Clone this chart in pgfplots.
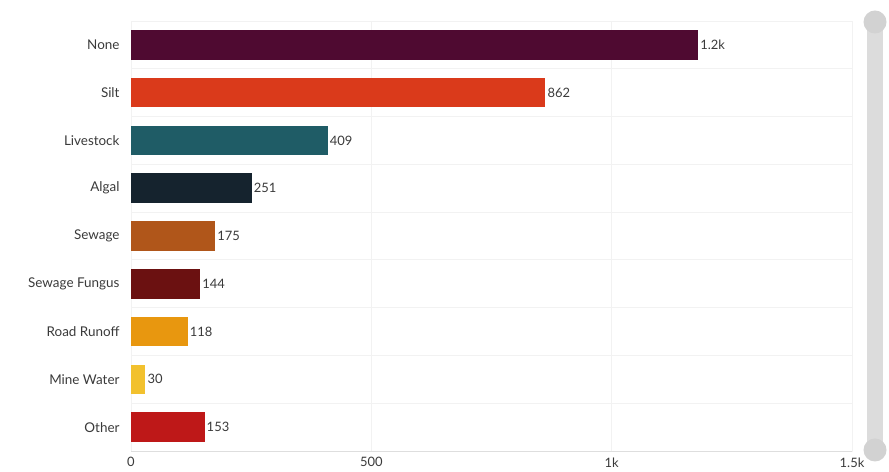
\documentclass[border=0pt]{standalone}
\usepackage{pgfplots}
\pgfplotsset{compat=1.18}
\usepackage{fontspec}
\setmainfont{Lato}
\definecolor{cNone}{HTML}{4F0A31}
\definecolor{cSilt}{HTML}{DA3A1B}
\definecolor{cLive}{HTML}{1F5C66}
\definecolor{cAlgal}{HTML}{15232E}
\definecolor{cSew}{HTML}{B0561A}
\definecolor{cFung}{HTML}{6B1111}
\definecolor{cRoad}{HTML}{E8970F}
\definecolor{cMine}{HTML}{F2C12E}
\definecolor{cOther}{HTML}{BE1818}
\definecolor{txt}{HTML}{3A3A3A}
\definecolor{gridc}{HTML}{F2F2F2}
\definecolor{scroll}{HTML}{DCDCDC}
\definecolor{knob}{HTML}{D2D2D2}
\begin{document}
\begin{tikzpicture}[x=1bp,y=1bp]
\path[use as bounding box] (0,0) rectangle (889,472);
% scrollbar
\fill[scroll] (867,22) rectangle (883,450);
\fill[knob] (875,450) circle (11.5);
\fill[knob] (875,22) circle (11.5);
\begin{axis}[
  at={(131bp,21bp)}, anchor=south west,
  scale only axis, width=721bp, height=430bp,
  xmin=0, xmax=1500, ymin=-0.5, ymax=8.5, y dir=reverse,
  xbar, bar shift=0pt, bar width=0.62,
  ytick={0,...,8},
  yticklabels={None,Silt,Livestock,Algal,Sewage,Sewage Fungus,Road Runoff,Mine Water,Other},
  minor ytick={0.5,1.5,...,7.5},
  xtick={0,500,1000,1500},
  xticklabels={0,500,1k,1.5k},
  major tick length=0, minor tick length=0,
  xmajorgrids, yminorgrids,
  grid style={draw=gridc, line width=0.8bp},
  minor grid style={draw=gridc, line width=0.8bp},
  axis line style={draw=gridc, line width=0.8bp},
  y tick label style={font=\fontsize{13.5}{15}\selectfont, text=txt, xshift=-8bp},
  x tick label style={font=\fontsize{13}{15}\selectfont, text=txt, yshift=-3bp},
  point meta=explicit symbolic,
  nodes near coords,
  nodes near coords style={font=\fontsize{13}{15}\selectfont, text=txt, anchor=west, inner sep=2bp},
  clip=false,
]
\addplot[fill=cNone, draw=none] coordinates {(1180,0) [1.2k]};
\addplot[fill=cSilt, draw=none] coordinates {(862,1) [862]};
\addplot[fill=cLive, draw=none] coordinates {(409,2) [409]};
\addplot[fill=cAlgal, draw=none] coordinates {(251,3) [251]};
\addplot[fill=cSew, draw=none] coordinates {(175,4) [175]};
\addplot[fill=cFung, draw=none] coordinates {(144,5) [144]};
\addplot[fill=cRoad, draw=none] coordinates {(118,6) [118]};
\addplot[fill=cMine, draw=none] coordinates {(30,7) [30]};
\addplot[fill=cOther, draw=none] coordinates {(153,8) [153]};
\draw[draw=black!13, line width=1bp] (axis cs:0,8.5) -- (axis cs:1500,8.5);
\end{axis}
\end{tikzpicture}
\end{document}
